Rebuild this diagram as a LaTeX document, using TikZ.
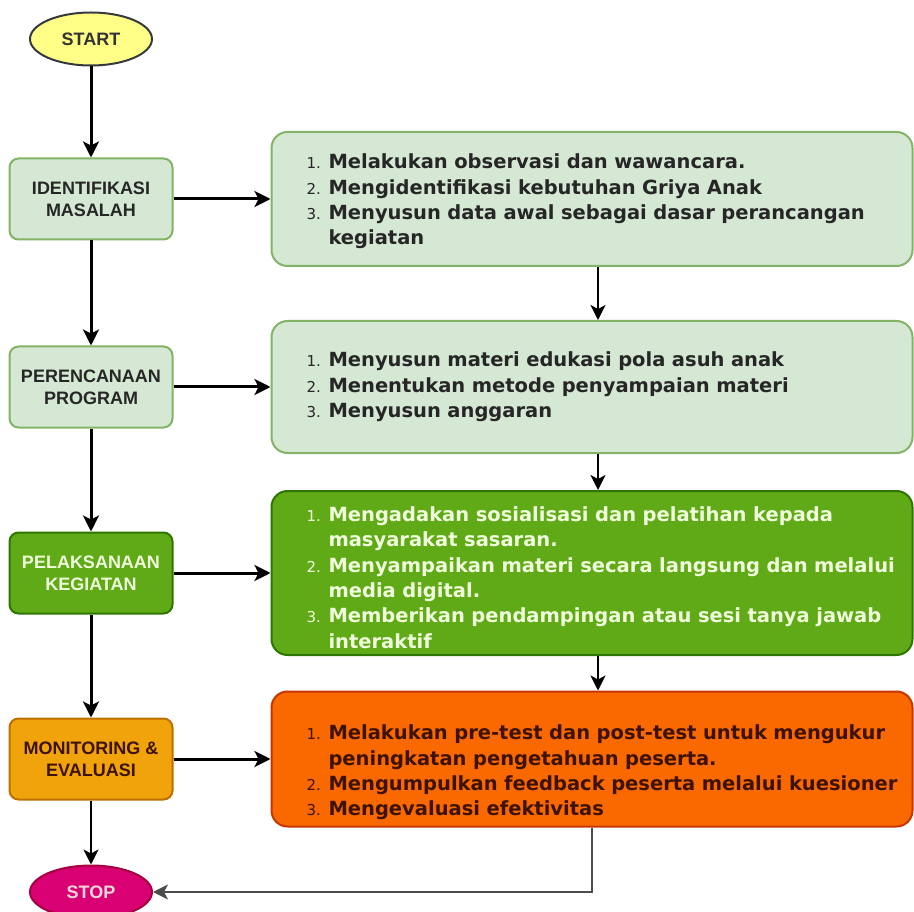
\documentclass[tikz,border=0pt]{standalone}
\usepackage{fontspec}
\setmainfont{DejaVu Sans}
\newfontfamily\labelfont{Liberation Sans}
\usepackage{xcolor}
\usetikzlibrary{shapes.geometric,arrows.meta,positioning}

\definecolor{lightfill}{HTML}{D5E8D4}
\definecolor{lightline}{HTML}{82B366}
\definecolor{darkfill}{HTML}{60A917}
\definecolor{darkline}{HTML}{2D7600}
\definecolor{amberfill}{HTML}{F0A30A}
\definecolor{amberline}{HTML}{BD7000}
\definecolor{orangefill}{HTML}{FA6800}
\definecolor{orangeline}{HTML}{C73500}
\definecolor{startfill}{HTML}{FFFF88}
\definecolor{startline}{HTML}{36393D}
\definecolor{stopfill}{HTML}{D80073}
\definecolor{stopline}{HTML}{A50040}
\definecolor{brownText}{HTML}{3D1200}
\definecolor{paleText}{HTML}{F0FFDC}

% one line of a numbered list, never wrapped
\newcommand{\stepline}[2]{\hbox to 571pt{\makebox[22pt][l]{\mdseries\fontsize{15}{15}\selectfont #1}#2\hss}}

\begin{document}
\begin{tikzpicture}[
        x=1pt, y=-1pt,
        terminal/.style={ellipse, draw, line width=2pt, inner sep=0pt, minimum width=122pt, minimum height=53pt, font=\labelfont\bfseries\fontsize{18}{22}\selectfont},
        stepbox/.style={rectangle, rounded corners=9pt, draw, line width=2pt, minimum width=163pt, minimum height=81pt, align=center, font=\labelfont\bfseries\fontsize{18}{22}\selectfont},
        detail/.style={rectangle, rounded corners=16pt, draw, line width=2pt, minimum width=641pt, inner xsep=35pt, text width=571pt, align=left, font=\bfseries\fontsize{19.5}{25.4}\selectfont},
        flow/.style={line width=3pt, -{Stealth[length=16pt,width=16pt,inset=4pt]}},
        link/.style={line width=1.8pt, -{Stealth[length=15pt,width=15pt,inset=4pt]}}
    ]
        \useasboundingbox (0,0) rectangle (914,912);

        % left column
        \node[terminal, fill=startfill, draw=startline, text=black!80] (start) at (91,39) {START};
        \node[stepbox, fill=lightfill, draw=lightline, text=black!85, below=91pt of start] (ident) {IDENTIFIKASI\\MASALAH};
        \node[stepbox, fill=lightfill, draw=lightline, text=black!85, below=105pt of ident] (plan) {PERENCANAAN\\PROGRAM};
        \node[stepbox, fill=darkfill, draw=darkline, text=paleText, below=103pt of plan] (exec) {PELAKSANAAN\\KEGIATAN};
        \node[stepbox, fill=amberfill, draw=amberline, text=brownText, below=103pt of exec] (monev) {MONITORING \&\\EVALUASI};
        \node[terminal, fill=stopfill, draw=stopline, text=pink!60, below=64pt of monev] (stop) {STOP};

        % right column
        \node[detail, fill=lightfill, draw=lightline, text=black!85, minimum height=134pt, right=97pt of ident] (identtxt) {%
            \stepline{1.}{\rule{0pt}{20pt}Melakukan observasi dan wawancara.}
            \stepline{2.}{Mengidentifikasi kebutuhan Griya Anak}
            \stepline{3.}{Menyusun data awal sebagai dasar perancangan}
            \stepline{}{kegiatan}};
        \node[detail, fill=lightfill, draw=lightline, text=black!85, minimum height=132pt, right=97pt of plan] (plantxt) {%
            \stepline{1.}{Menyusun materi edukasi pola asuh anak}
            \stepline{2.}{Menentukan metode penyampaian materi}
            \stepline{3.}{Menyusun anggaran}};
        \node[detail, fill=darkfill, draw=darkline, text=paleText, minimum height=164pt, right=97pt of exec] (exectxt) {%
            \stepline{1.}{\rule{0pt}{24pt}Mengadakan sosialisasi dan pelatihan kepada}
            \stepline{}{masyarakat sasaran.}
            \stepline{2.}{Menyampaikan materi secara langsung dan melalui}
            \stepline{}{media digital.}
            \stepline{3.}{Memberikan pendampingan atau sesi tanya jawab}
            \stepline{}{interaktif}};
        \node[detail, fill=orangefill, draw=orangeline, text=brownText, minimum height=135pt, right=97pt of monev] (monevtxt) {%
            \stepline{1.}{\rule{0pt}{42pt}Melakukan pre-test dan post-test untuk mengukur}
            \stepline{}{peningkatan pengetahuan peserta.}
            \stepline{2.}{Mengumpulkan feedback peserta melalui kuesioner}
            \stepline{3.}{Mengevaluasi efektivitas}};

        \draw[flow] (start) -- (ident);
        \draw[flow] (ident) -- (plan);
        \draw[flow] (plan) -- (exec);
        \draw[flow] (exec) -- (monev);
        \draw[link, line width=2pt] (monev) -- (stop);

        \draw[flow] (ident) -- (identtxt);
        \draw[flow] (plan) -- (plantxt);
        \draw[flow] (exec) -- (exectxt);
        \draw[flow] (monev) -- (monevtxt);

        \draw[link] ([xshift=6pt]identtxt.south) -- ([xshift=6pt]plantxt.north);
        \draw[link] ([xshift=6pt]plantxt.south) -- ([xshift=6pt]exectxt.north);
        \draw[link] ([xshift=6pt]exectxt.south) -- ([xshift=6pt]monevtxt.north);
        \draw[link, line width=2pt, draw=black!70] (monevtxt.south) |- (stop.east);
    \end{tikzpicture}
\end{document}
